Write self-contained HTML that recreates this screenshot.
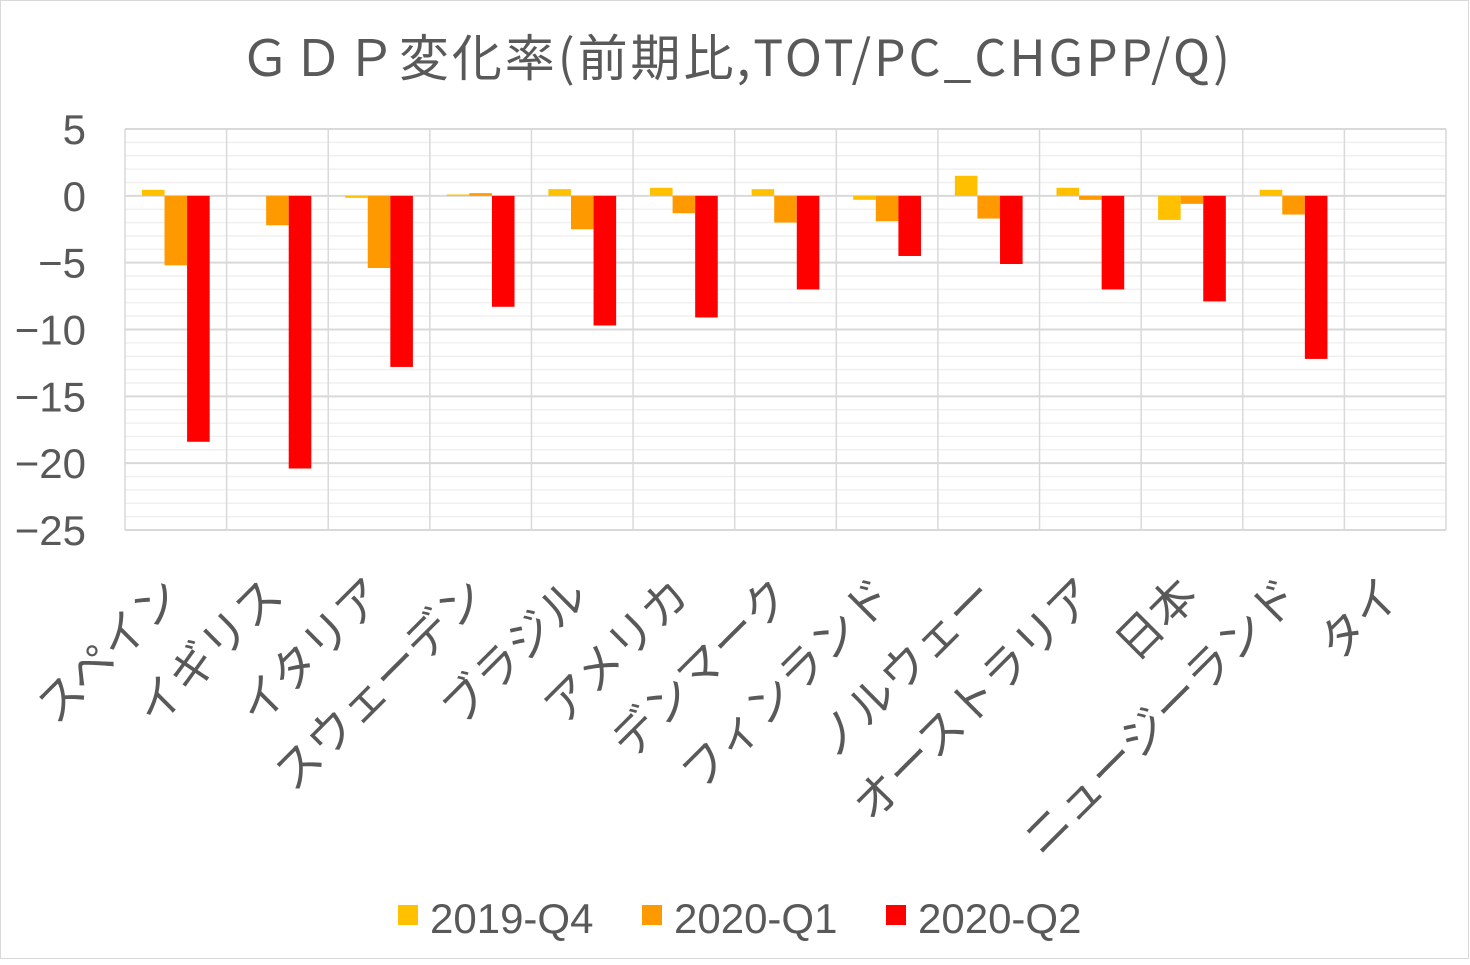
<!DOCTYPE html>
<html><head><meta charset="utf-8"><style>
html,body{margin:0;padding:0;background:#fff;}
svg text{font-family:"Liberation Sans","Noto Sans CJK JP",sans-serif;fill:#595959;}
</style></head><body>
<svg width="1470" height="960" viewBox="0 0 1470 960" xmlns="http://www.w3.org/2000/svg">
<rect x="0.5" y="0.5" width="1468" height="958" fill="#fff" stroke="#d9d9d9"/>
<text x="240" y="76" textLength="990" lengthAdjust="spacing" font-size="50" style="font-family:'Noto Sans CJK JP',sans-serif">ＧＤＰ変化率(前期比,TOT/PC_CHGPP/Q)</text>
<g id="grid"></g>
<g id="bars"></g>
<g id="labels"></g>
<g>
<rect x="398" y="905" width="20" height="20" fill="#ffc000"/>
<text x="430" y="933" font-size="42">2019-Q4</text>
<rect x="642" y="905" width="20" height="20" fill="#ff9900"/>
<text x="674" y="933" font-size="42">2020-Q1</text>
<rect x="886" y="905" width="20" height="20" fill="#ff0000"/>
<text x="918" y="933" font-size="42">2020-Q2</text>
</g>
</svg>
<script>
const categories=["スペイン","イギリス","イタリア","スウェーデン","ブラジル","アメリカ","デンマーク","フィンランド","ノルウェー","オーストラリア","日本","ニュージーランド","タイ"];
const q4=[0.45,0,-0.15,0.1,0.5,0.6,0.5,-0.3,1.5,0.6,-1.8,0.45,null];
const q1=[-5.2,-2.2,-5.4,0.2,-2.5,-1.3,-2.0,-1.9,-1.7,-0.3,-0.6,-1.4,null];
const q2=[-18.4,-20.4,-12.8,-8.3,-9.7,-9.1,-7.0,-4.5,-5.1,-7.0,-7.9,-12.2,null];
const yTicks=[5,0,-5,-10,-15,-20,-25];
const NS="http://www.w3.org/2000/svg";
const L=125,R=1446,yMax=5,yMin=-25,T=129,B=530;
const y=v=>T+(yMax-v)/(yMax-yMin)*(B-T);
const cw=(R-L)/categories.length;
const x=i=>L+i*cw;
function mk(tag,attrs,parent){const e=document.createElementNS(NS,tag);for(const k in attrs)e.setAttribute(k,attrs[k]);parent.appendChild(e);return e;}
const grid=document.getElementById('grid');
for(let v=yMin;v<=yMax;v++){
  const ln=mk('line',{x1:L,x2:R,y1:y(v),y2:y(v),stroke:v%5===0?'#d9d9d9':'#f0f0f0','stroke-width':v%5===0?2:1.5},grid);
  
  
}
for(let i=0;i<=categories.length;i++){
  const ln=mk('line',{x1:x(i),x2:x(i),y1:T,y2:B,stroke:'#d9d9d9','stroke-width':1.5},grid);
  
  
}
yTicks.forEach(v=>{
  const t=mk('text',{x:86,y:y(v)+15,'text-anchor':'end','font-size':42},grid);
  t.textContent=v<0?'−'+Math.abs(v):String(v);
  
  
});
const bars=document.getElementById('bars');
const series=[[q4,'#ffc000'],[q1,'#ff9900'],[q2,'#ff0000']];
const bw=cw/4.5;
categories.forEach((c,i)=>{
  series.forEach(([arr,col],s)=>{
    const v=arr[i];if(v===null)return;
    const bx=x(i)+cw/2-1.5*bw+s*bw;
    const r=mk('rect',{x:bx,y:Math.min(y(v),y(0)),width:bw,height:Math.abs(y(v)-y(0)),fill:col},bars);
    
    
  });
});
const labels=document.getElementById('labels');
categories.forEach((c,i)=>{
  const cx=x(i)+cw/2+8, cy=598;
  const t=mk('text',{x:cx,y:cy,'text-anchor':'end','font-size':46,transform:`rotate(-45 ${cx} ${cy})`,style:"font-family:'Noto Sans CJK JP',sans-serif"},labels);
  t.textContent=c;
  
  
});
</script>
</body></html>
